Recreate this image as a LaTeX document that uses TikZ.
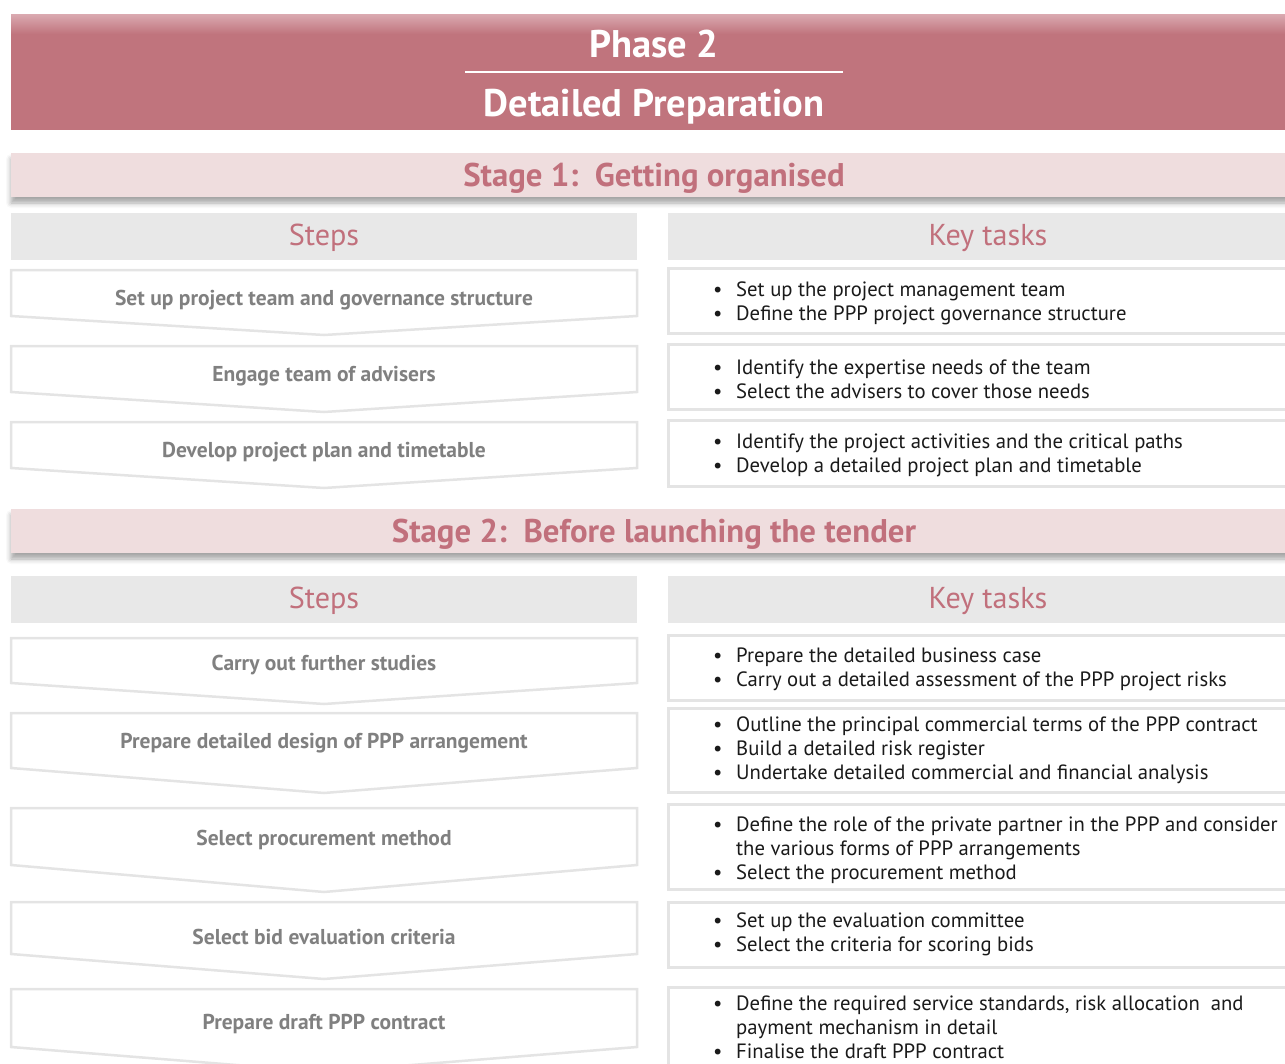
\documentclass[tikz,border=0pt]{standalone}
\usepackage{fontspec}
\setmainfont{PT Sans}
\usetikzlibrary{shadows.blur}

\definecolor{phaserose}{RGB}{192,116,125}
\definecolor{phasetop}{RGB}{218,170,177}
\definecolor{stagepink}{RGB}{239,221,222}
\definecolor{stagetext}{RGB}{193,112,124}
\definecolor{headgray}{RGB}{232,232,232}
\definecolor{boxline}{RGB}{228,228,228}
\definecolor{labelgray}{RGB}{128,128,128}
\definecolor{tasktext}{RGB}{26,26,26}

\tikzset{
  phasetext/.style={text=white, inner sep=0pt, font=\fontsize{38.5}{44}\selectfont\bfseries},
  stageband/.style={fill=stagepink, minimum width=1286pt, minimum height=44pt, inner sep=0pt,
    text height=25pt, text depth=3pt,
    text=stagetext, font=\fontsize{32.8}{38}\selectfont\bfseries,
    blur shadow={shadow xshift=0pt, shadow yshift=-6pt, shadow blur radius=5pt, shadow opacity=35}},
  colhead/.style={fill=headgray, minimum height=47pt, inner sep=0pt, text=stagetext,
    text height=22pt, text depth=5pt, font=\fontsize{30.2}{35}\selectfont},
  stepbox/.style={draw=boxline, line width=2.5pt, fill=white},
  steplabel/.style={text=labelgray, inner sep=0pt, font=\fontsize{21.5}{25}\selectfont\bfseries},
  taskbox/.style={draw=boxline, line width=3pt, fill=white},
  tasklist/.style={anchor=west, align=left, inner sep=0pt, text=tasktext,
    font=\fontsize{20.7}{24}\selectfont},
}
% bullet and hanging indent for the key tasks
\newcommand{\bul}{\makebox[23pt][l]{\textbullet}}
\newcommand{\cont}{\hspace*{23pt}}

\begin{document}
\begin{tikzpicture}[x=1pt, y=-1pt]
    \useasboundingbox (0,0) rectangle (1285,1063);
    % Phase banner
    \fill[phaserose] (11,14) rectangle (1297,130);
    \shade[top color=phasetop, bottom color=phaserose] (11,14) rectangle (1297,34);
    \node[phasetext] (phase) at (654,44) {Phase 2};
    \node[phasetext] (prep) at (654,107) {Detailed Preparation};
    \coordinate (rule-l) at (465,72);
    \coordinate (rule-r) at (843,72);
    \draw[white, line width=2.5pt] (rule-l) -- (rule-r);

    % Stage 1
    \node[stageband] (stage-1) at (654,175) {Stage 1:\ \ Getting organised};
    \node[colhead, minimum width=626pt] (steps-1) at (324,236.5) {Steps};
    \node[colhead, minimum width=640pt] (tasks-1) at (988,236.5) {Key tasks};
    % Steps of stage 1
    \foreach \t/\s/\p/\ly/\txt [count=\i] in {
        270/316/335/300/Set up project team and governance structure,
        346/392/412/376/Engage team of advisers,
        422/468/488/452/Develop project plan and timetable} {
        \draw[stepbox] (11,\t) -- (637,\t) -- (637,\s) -- (324,\p) -- (11,\s) -- cycle;
        \node[steplabel] (step-1-\i) at (324,\ly) {\txt};
    }
    % Key tasks of stage 1
    \foreach \t/\b in {268/333, 344/409, 420/486} {
        \draw[taskbox] (668,\t) rectangle (1308,\b);
    }
    \node[tasklist] (task-1-1) at (713,303) {\bul Set up the project management team\\
        \bul Define the PPP project governance structure};
    \node[tasklist] (task-1-2) at (713,379) {\bul Identify the expertise needs of the team\\
        \bul Select the advisers to cover those needs};
    \node[tasklist] (task-1-3) at (713,455) {\bul Identify the project activities and the critical paths\\
        \bul Develop a detailed project plan and timetable};

    % Stage 2
    \node[stageband] (stage-2) at (654,531) {Stage 2:\ \ Before launching the tender};
    \node[colhead, minimum width=626pt] (steps-2) at (324,599.5) {Steps};
    \node[colhead, minimum width=640pt] (tasks-2) at (988,599.5) {Key tasks};
    % Steps of stage 2
    \foreach \t/\s/\p/\ly/\txt [count=\i] in {
        638/683/704/665/Carry out further studies,
        713/768/793/743/Prepare detailed design of PPP arrangement,
        808/865/892/840/Select procurement method,
        902/954/979/937/Select bid evaluation criteria,
        989/1047/1072/1024/Prepare draft PPP contract} {
        \draw[stepbox] (11,\t) -- (637,\t) -- (637,\s) -- (324,\p) -- (11,\s) -- cycle;
        \node[steplabel] (step-2-\i) at (324,\ly) {\txt};
    }
    % Key tasks of stage 2
    \foreach \t/\b in {635/700, 708/792, 804/889, 902/967, 987/1080} {
        \draw[taskbox] (668,\t) rectangle (1308,\b);
    }
    \node[tasklist] (task-2-1) at (713,669) {\bul Prepare the detailed business case\\
        \bul Carry out a detailed assessment of the PPP project risks};
    \node[tasklist] (task-2-2) at (713,750) {\bul Outline the principal commercial terms of the PPP contract\\
        \bul Build a detailed risk register\\
        \bul Undertake detailed commercial and financial analysis};
    \node[tasklist] (task-2-3) at (713,850) {\bul Define the role of the private partner in the PPP and consider\\
        \cont the various forms of PPP arrangements\\
        \bul Select the procurement method};
    \node[tasklist] (task-2-4) at (713,934) {\bul Set up the evaluation committee\\
        \bul Select the criteria for scoring bids};
    \node[tasklist] (task-2-5) at (713,1027) {\bul Define the required service standards, risk allocation\ \ and\\
        \cont payment mechanism in detail\\
        \bul Finalise the draft PPP contract};
\end{tikzpicture}
\end{document}
